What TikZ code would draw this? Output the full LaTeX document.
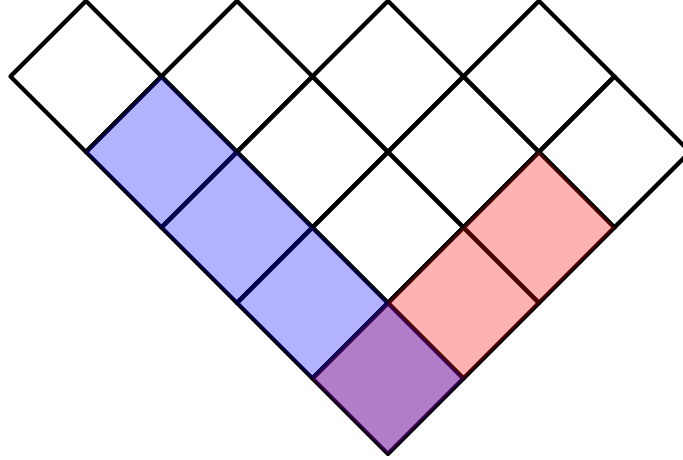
\documentclass[tikz,border=0pt]{standalone}
\usepackage{tikz}
\usepackage{xcolor}

\tikzset{
  redcell/.style={fill=red,fill opacity=0.3},
  bluecell/.style={fill=blue,fill opacity=0.3}
}

\begin{document}
\begin{tikzpicture}[line width=1.2pt,line join=round]
\def\d{0.755}
\useasboundingbox (-3.88,-0.06) rectangle (2.95,4.54);
\clip (-3.88,-0.06) rectangle (2.95,4.54);
% the grid of boxes, rotated by 45 degrees
\foreach \i/\j in {0/0,0/1,0/2,0/3,1/0,1/1,1/2,1/3,2/0,2/1,2/2,3/0,3/1,4/0}{
\draw[shift={({\d*(\j-\i)},{\d*(\i+\j)})}] (0,0) -- (\d,\d) -- (0,2*\d) -- (-\d,\d) -- cycle;
}
% first row
\foreach \j in {0,1,2}{
\fill[redcell,shift={({\d*\j},{\d*\j})}] (0,0) -- (\d,\d) -- (0,2*\d) -- (-\d,\d) -- cycle;
}
% first column
\foreach \i in {0,1,2,3}{
\fill[bluecell,shift={({-\d*\i},{\d*\i})}] (0,0) -- (\d,\d) -- (0,2*\d) -- (-\d,\d) -- cycle;
}
\end{tikzpicture}
\end{document}
